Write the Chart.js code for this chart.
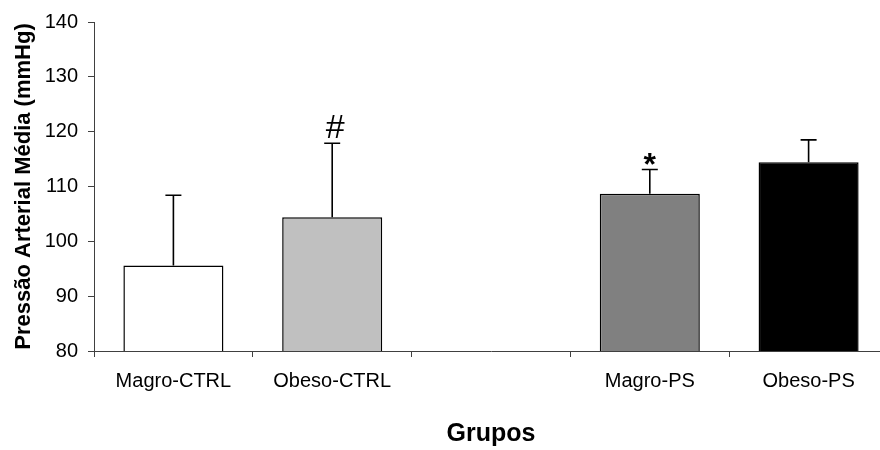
<!DOCTYPE html>
<html>
<head>
<meta charset="utf-8">
<script src="https://cdn.jsdelivr.net/npm/chart.js@4/dist/chart.umd.min.js"></script>
<style>
  html, body { margin: 0; padding: 0; background: #fff; overflow: hidden; }
  #wrap { width: 888px; height: 450px; position: relative; }
</style>
</head>
<body>
<div id="wrap"><canvas id="c"></canvas></div>
<script>
// Mean arterial pressure per group (mmHg), upper error and significance marks
const categories = ['Magro-CTRL', 'Obeso-CTRL', '', 'Magro-PS', 'Obeso-PS'];
const meanPressure = [95.6, 104.4, null, 108.7, 114.4];
const errorUpper = [12.8, 13.5, null, 4.4, 4.1];
const significance = ['', '#', '', '*', ''];
const barColors = ['#FFFFFF', '#C0C0C0', '#FFFFFF', '#808080', '#000000'];
const yTicks = [80, 90, 100, 110, 120, 130, 140];

const FONT = '"Liberation Sans", Arial, Helvetica, sans-serif';
const AXIS_COLOR = '#404040';

// Upward-only error whiskers with caps, plus significance symbols above them
const errorBars = {
  id: 'errorBars',
  afterDatasetsDraw(chart) {
    const ctx = chart.ctx;
    const meta = chart.getDatasetMeta(0);
    const y = chart.scales.y;
    ctx.save();
    ctx.strokeStyle = '#000';
    ctx.fillStyle = '#000';
    ctx.lineWidth = 1.6;
    meta.data.forEach((bar, i) => {
      if (meanPressure[i] == null) return;
      const base = y.getPixelForValue(meanPressure[i]);
      const top = y.getPixelForValue(meanPressure[i] + errorUpper[i]);
      ctx.beginPath();
      ctx.moveTo(bar.x, base);
      ctx.lineTo(bar.x, top);
      ctx.moveTo(bar.x - 8, top);
      ctx.lineTo(bar.x + 8, top);
      ctx.stroke();
      const mark = significance[i];
      if (mark) {
        ctx.font = (mark === '*' ? 'bold 32px ' : '34px ') + FONT;
        ctx.textAlign = 'center';
        ctx.textBaseline = 'alphabetic';
        const m = ctx.measureText(mark);
        const bottom = top - 5;
        ctx.fillText(mark, bar.x + (mark === '#' ? 3 : 0), bottom - m.actualBoundingBoxDescent);
      }
    });
    ctx.restore();
  }
};

new Chart(document.getElementById('c'), {
  type: 'bar',
  data: {
    labels: categories,
    datasets: [{
      data: meanPressure,
      backgroundColor: barColors,
      borderColor: '#000',
      borderWidth: 1.5,
      barPercentage: 0.63,
      categoryPercentage: 1.0
    }]
  },
  options: {
    responsive: true,
    maintainAspectRatio: false,
    devicePixelRatio: 1,
    animation: false,
    layout: { padding: { top: 20, right: 0, bottom: 0, left: 0 } },
    plugins: { legend: { display: false }, tooltip: { enabled: false } },
    scales: {
      x: {
        type: 'category',
        grid: { display: true, drawOnChartArea: false, drawTicks: true, tickLength: 6, color: AXIS_COLOR, offset: true },
        border: { display: true, color: AXIS_COLOR, width: 1 },
        ticks: { color: '#000', font: { family: FONT, size: 20 }, padding: 12, maxRotation: 0, autoSkip: false },
        title: { display: true, text: 'Grupos', color: '#000', font: { family: FONT, size: 25, weight: 'bold' }, padding: { top: 0, bottom: 1 } },
        afterFit(scale) { scale.height = 99; }
      },
      y: {
        min: 80,
        max: 140,
        afterBuildTicks(scale) { scale.ticks = yTicks.map(v => ({ value: v })); },
        grid: { display: true, drawOnChartArea: false, drawTicks: true, tickLength: 6, color: AXIS_COLOR },
        border: { display: true, color: AXIS_COLOR, width: 1 },
        ticks: { color: '#000', font: { family: FONT, size: 20 }, padding: 10 },
        title: { display: true, text: 'Pressão Arterial Média (mmHg)', color: '#000', font: { family: FONT, size: 22, weight: 'bold' }, padding: { top: 11, bottom: 0 } },
        afterFit(scale) { scale.width = 94; }
      }
    }
  },
  plugins: [errorBars]
});
</script>
</body>
</html>
